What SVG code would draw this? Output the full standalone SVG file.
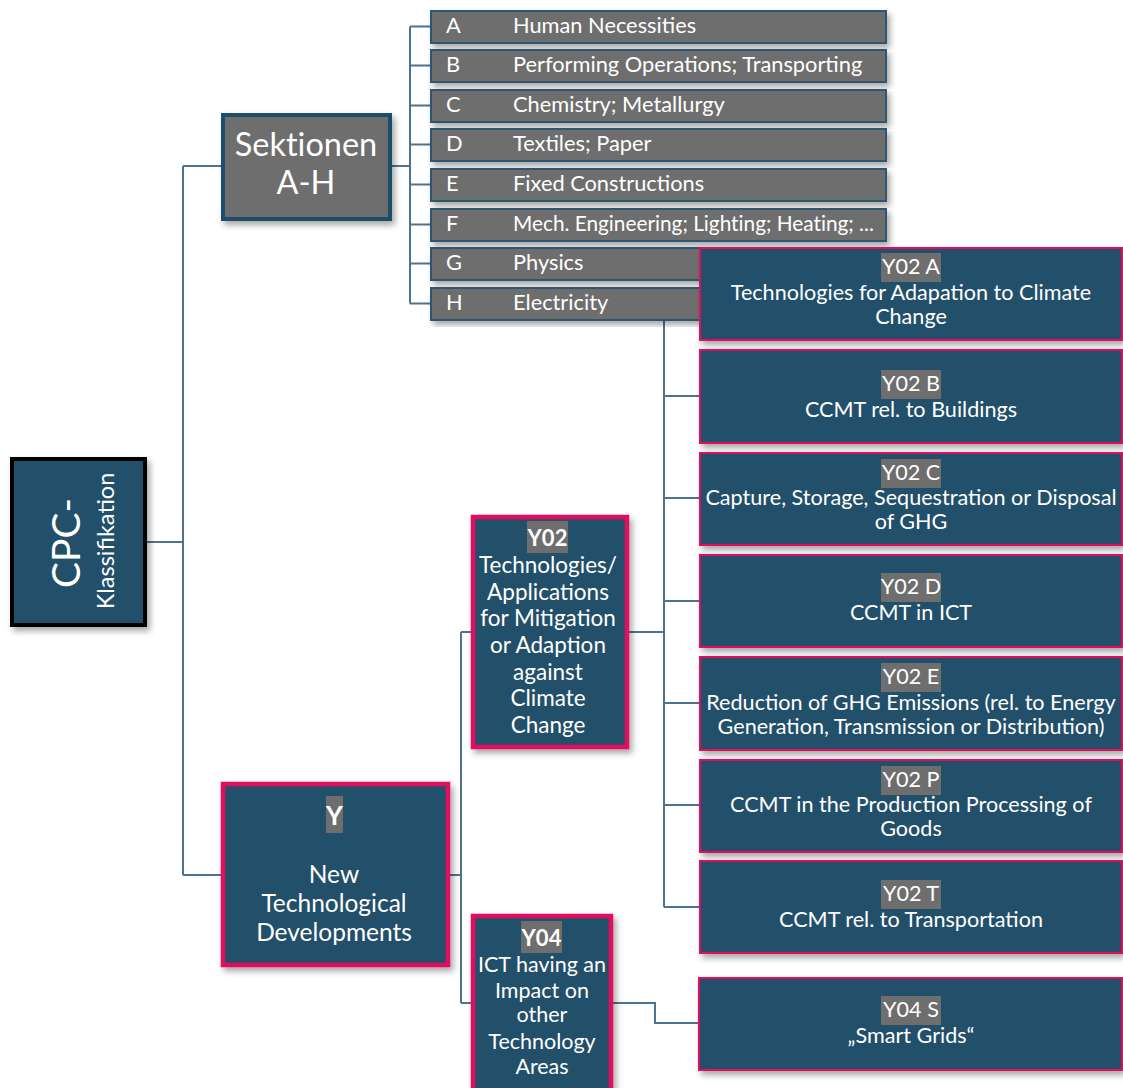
<svg xmlns="http://www.w3.org/2000/svg" width="1123" height="1088" viewBox="0 0 1123 1088">
<defs>
<filter id="sh" x="-10%" y="-10%" width="130%" height="130%">
<feDropShadow dx="3" dy="4" stdDeviation="3" flood-color="#000" flood-opacity="0.35"/>
</filter>
<style>
.t{font-family:Lato,"Open Sans","Liberation Sans",sans-serif;fill:#fff}
.c{fill:none;stroke:#4d7390;stroke-width:2}
.row{fill:#6e6e6e;stroke:#2d5670;stroke-width:2;filter:url(#sh)}
.rl{font-size:21.8px}
.yb{fill:#234f69;stroke:#e3115f;stroke-width:2;filter:url(#sh)}
.big{fill:#234f69;stroke:#e3115f;stroke-width:4.5;filter:url(#sh)}
.hl{fill:#6e6e6e}
.m{text-anchor:middle}
.r{font-size:21.6px}
</style>
</defs>
<rect width="1123" height="1088" fill="#fff"/>
<g id="connectors">
<path class="c" d="M147 542H183M183 166V875M183 166H221M183 875H221"/>
<path class="c" d="M392 166H410M410 26.5V303.5M410 26.5H430M410 65.5H430M410 105.5H430M410 144.5H430M410 184.5H430M410 224.5H430M410 263.5H430M410 303.5H430"/>
<path class="c" d="M450 875H461M461 632V1003M461 632H471M461 1003H471"/>
<path class="c" d="M629 632H664" stroke-width="3.5"/>
<path class="c" d="M664 294V907M664 294H699M664 396H699M664 498H699M664 601H699M664 703H699M664 805H699M664 907H699"/>
<path class="c" d="M613 1003H655V1023H698"/>
</g>
<g id="cpc">
<rect x="12" y="459" width="133" height="166" fill="#234f69" stroke="#000" stroke-width="4" filter="url(#sh)"/>
<text class="t m" font-size="39" transform="translate(80,543) rotate(-90)">CPC-</text>
<text class="t m" font-size="23.5" transform="translate(114,541) rotate(-90)">Klassifikation</text>
</g>
<g id="sektionen">
<rect x="223" y="115" width="167" height="104" fill="#6e6e6e" stroke="#1f4e6b" stroke-width="4" filter="url(#sh)"/>
<text class="t m" font-size="32.5" x="306" y="156" style="font-variant-ligatures:none">Sektionen</text>
<text class="t m" font-size="32.5" x="306" y="194">A-H</text>
</g>
<g id="row-a"><rect class="row" x="431" y="11" width="455" height="32"/><text class="t rl" x="446" y="33">A</text><text class="t rl" x="513" y="33">Human Necessities</text></g>
<g id="row-b"><rect class="row" x="431" y="50" width="455" height="32"/><text class="t rl" x="446" y="72">B</text><text class="t rl" x="513" y="72">Performing Operations; Transporting</text></g>
<g id="row-c"><rect class="row" x="431" y="90" width="455" height="32"/><text class="t rl" x="446" y="112">C</text><text class="t rl" x="513" y="112">Chemistry; Metallurgy</text></g>
<g id="row-d"><rect class="row" x="431" y="129" width="455" height="32"/><text class="t rl" x="446" y="151">D</text><text class="t rl" x="513" y="151">Textiles; Paper</text></g>
<g id="row-e"><rect class="row" x="431" y="169" width="455" height="32"/><text class="t rl" x="446" y="191">E</text><text class="t rl" x="513" y="191">Fixed Constructions</text></g>
<g id="row-f"><rect class="row" x="431" y="209" width="455" height="32"/><text class="t rl" x="446" y="231">F</text><text class="t" font-size="20.8" x="513" y="231" style="font-variant-ligatures:none">Mech. Engineering; Lighting; Heating; ...</text></g>
<g id="row-g"><rect class="row" x="431" y="248" width="455" height="32"/><text class="t rl" x="446" y="270">G</text><text class="t rl" x="513" y="270">Physics</text></g>
<g id="row-h"><rect class="row" x="431" y="288" width="455" height="32"/><text class="t rl" x="446" y="310">H</text><text class="t rl" x="513" y="310">Electricity</text></g>
<g id="y">
<rect class="big" x="223" y="784" width="225" height="181"/>
<rect class="hl" x="326" y="796" width="17" height="37"/>
<text class="t m" font-size="26" font-weight="bold" x="334.5" y="825">Y</text>
<text class="t m" font-size="24.5" x="334" y="883">New</text>
<text class="t m" font-size="24.5" x="334" y="912">Technological</text>
<text class="t m" font-size="24.5" x="334" y="941">Developments</text>
</g>
<g id="y02">
<rect class="big" x="473" y="517" width="154" height="230"/>
<rect class="hl" x="527" y="521" width="41" height="32"/>
<text class="t m" font-size="22" font-weight="bold" x="547.5" y="546">Y02</text>
<text class="t m" font-size="22.5" x="548" y="573">Technologies/</text>
<text class="t m" font-size="22.5" x="548" y="600">Applications</text>
<text class="t m" font-size="22.5" x="548" y="626">for Mitigation</text>
<text class="t m" font-size="22.5" x="548" y="653">or Adaption</text>
<text class="t m" font-size="22.5" x="548" y="680">against</text>
<text class="t m" font-size="22.5" x="548" y="706">Climate</text>
<text class="t m" font-size="22.5" x="548" y="733">Change</text>
</g>
<g id="y04">
<rect class="big" x="473" y="916" width="138" height="180"/>
<rect class="hl" x="521" y="921" width="41" height="32"/>
<text class="t m" font-size="22" font-weight="bold" x="541.5" y="946">Y04</text>
<text class="t m" font-size="21.5" x="542" y="972">ICT having an</text>
<text class="t m" font-size="21.5" x="542" y="998">Impact on</text>
<text class="t m" font-size="21.5" x="542" y="1022">other</text>
<text class="t m" font-size="21.5" x="542" y="1049">Technology</text>
<text class="t m" font-size="21.5" x="542" y="1074">Areas</text>
</g>
<g id="y02a"><rect class="yb" x="700" y="248" width="422" height="92"/><rect class="hl" x="881" y="253" width="60" height="29"/><text class="t m r" x="911" y="274">Y02 A</text><text class="t m r" x="911" y="300">Technologies for Adapation to Climate</text><text class="t m r" x="911" y="324">Change</text></g>
<g id="y02b"><rect class="yb" x="700" y="350" width="422" height="93"/><rect class="hl" x="881" y="370" width="60" height="29"/><text class="t m r" x="911" y="391">Y02 B</text><text class="t m r" x="911" y="417">CCMT rel. to Buildings</text></g>
<g id="y02c"><rect class="yb" x="700" y="453" width="422" height="92"/><rect class="hl" x="881" y="459" width="60" height="29"/><text class="t m r" x="911" y="480">Y02 C</text><text class="t m r" x="911" y="505">Capture, Storage, Sequestration or Disposal</text><text class="t m r" x="911" y="529">of GHG</text></g>
<g id="y02d"><rect class="yb" x="700" y="555" width="422" height="92"/><rect class="hl" x="881" y="573" width="60" height="29"/><text class="t m r" x="911" y="594">Y02 D</text><text class="t m r" x="911" y="620">CCMT in ICT</text></g>
<g id="y02e"><rect class="yb" x="700" y="657" width="422" height="93"/><rect class="hl" x="881" y="663" width="60" height="29"/><text class="t m r" x="911" y="684">Y02 E</text><text class="t m r" x="911" y="710">Reduction of GHG Emissions (rel. to Energy</text><text class="t m r" x="911" y="734">Generation, Transmission or Distribution)</text></g>
<g id="y02p"><rect class="yb" x="700" y="760" width="422" height="92"/><rect class="hl" x="881" y="766" width="60" height="29"/><text class="t m r" x="911" y="787">Y02 P</text><text class="t m r" x="911" y="812">CCMT in the Production Processing of</text><text class="t m r" x="911" y="836">Goods</text></g>
<g id="y02t"><rect class="yb" x="700" y="861" width="422" height="92"/><rect class="hl" x="881" y="880" width="60" height="29"/><text class="t m r" x="911" y="901">Y02 T</text><text class="t m r" x="911" y="927">CCMT rel. to Transportation</text></g>
<g id="y04s"><rect class="yb" x="699" y="978" width="423" height="92"/><rect class="hl" x="881" y="996" width="60" height="29"/><text class="t m r" x="911" y="1017">Y04 S</text><text class="t m r" x="911" y="1043">„Smart Grids“</text></g>
</svg>
